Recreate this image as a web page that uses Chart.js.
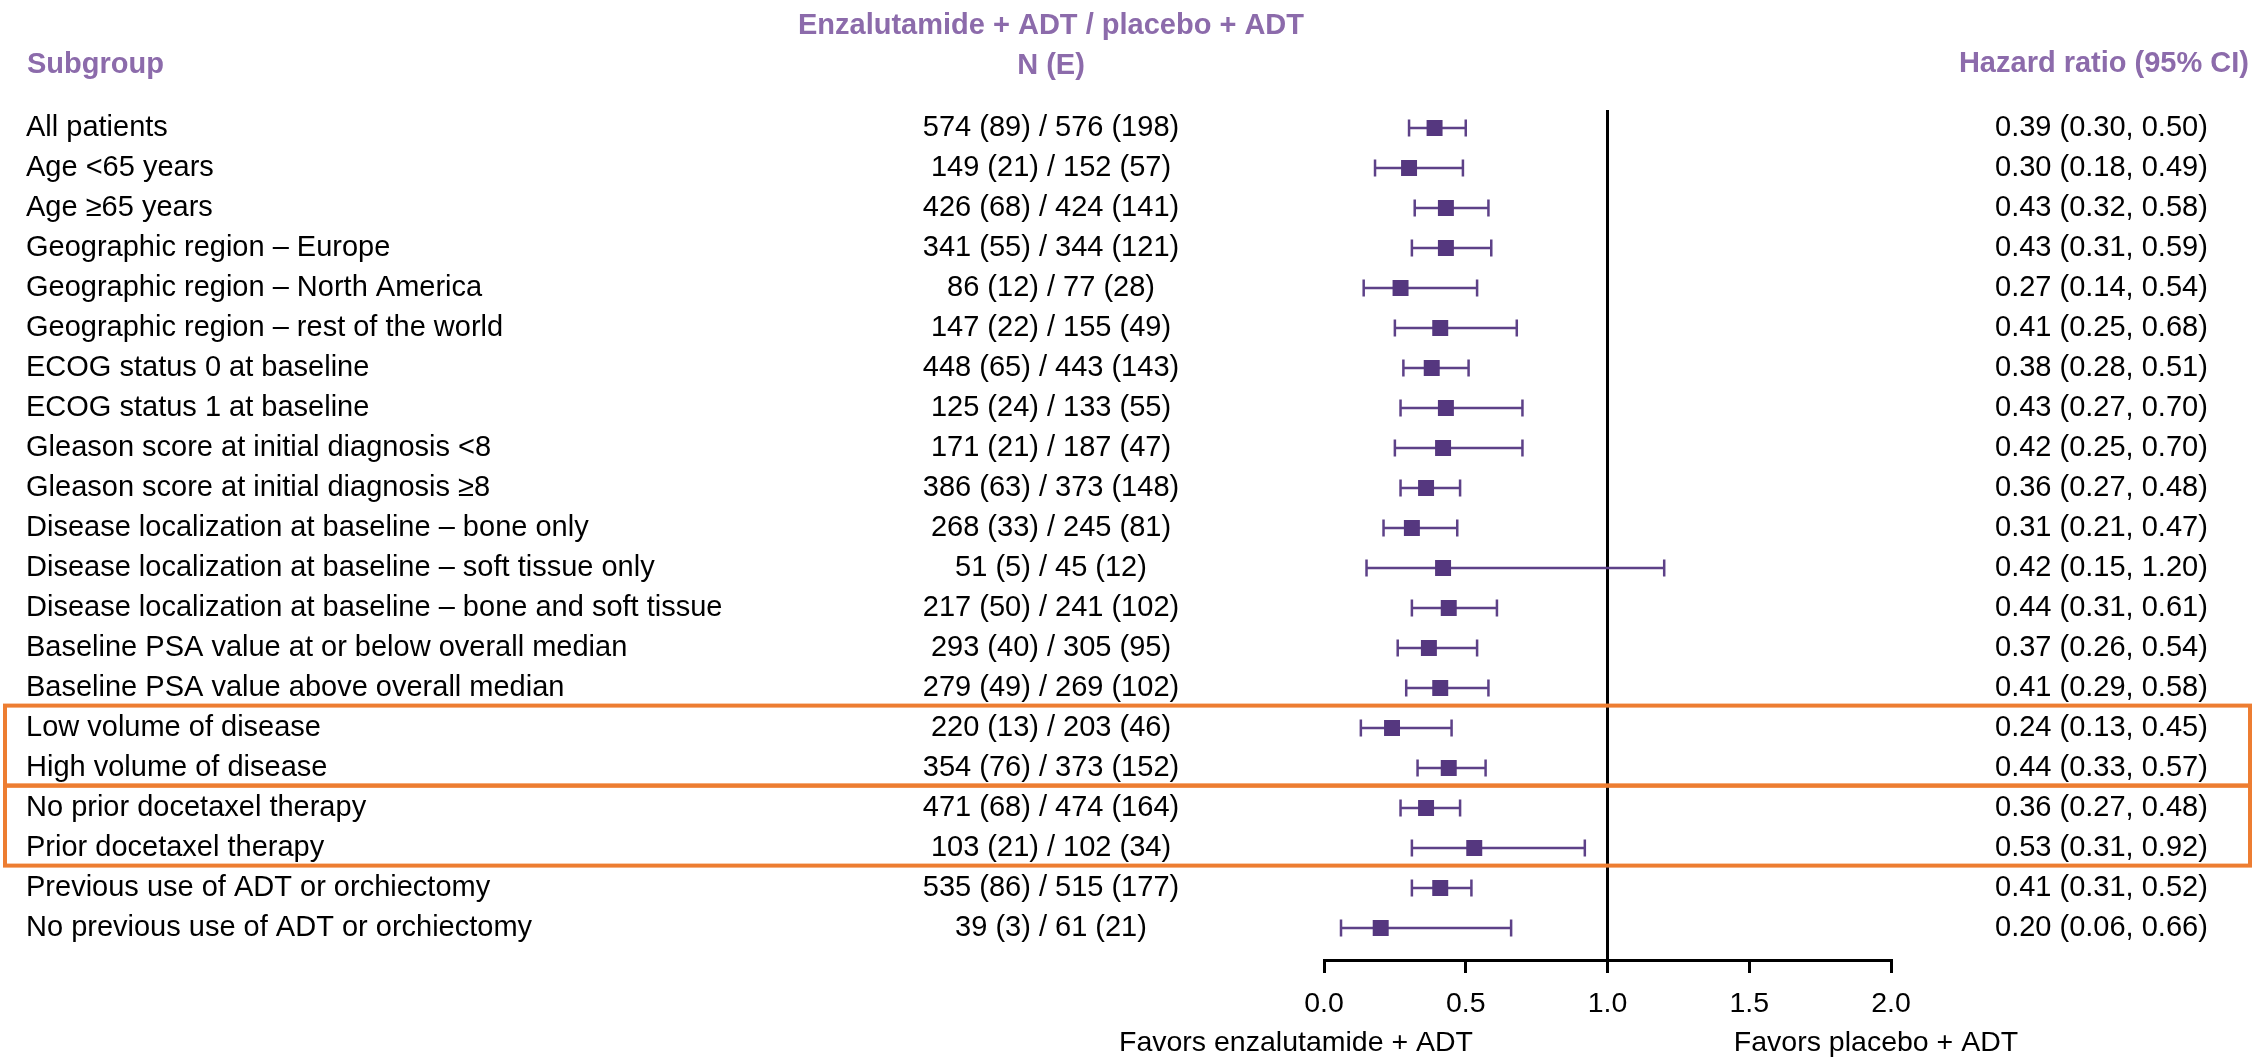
<!DOCTYPE html>
<html>
<head>
<meta charset="utf-8">
<script src="https://cdn.jsdelivr.net/npm/chart.js@4.4.1/dist/chart.umd.min.js"></script>
<style>
  html, body { margin: 0; padding: 0; background: #fff; }
  #wrap { width: 2254px; height: 1058px; }
</style>
</head>
<body>
<div id="wrap"><canvas id="forest" width="2254" height="1058"></canvas></div>
<script>
// rows, top to bottom
const subgroups = [
    "All patients",
    "Age <65 years",
    "Age \u226565 years",
    "Geographic region \u2013 Europe",
    "Geographic region \u2013 North America",
    "Geographic region \u2013 rest of the world",
    "ECOG status 0 at baseline",
    "ECOG status 1 at baseline",
    "Gleason score at initial diagnosis <8",
    "Gleason score at initial diagnosis \u22658",
    "Disease localization at baseline \u2013 bone only",
    "Disease localization at baseline \u2013 soft tissue only",
    "Disease localization at baseline \u2013 bone and soft tissue",
    "Baseline PSA value at or below overall median",
    "Baseline PSA value above overall median",
    "Low volume of disease",
    "High volume of disease",
    "No prior docetaxel therapy",
    "Prior docetaxel therapy",
    "Previous use of ADT or orchiectomy",
    "No previous use of ADT or orchiectomy"
];

const nEvents = [
    "574 (89) / 576 (198)",
    "149 (21) / 152 (57)",
    "426 (68) / 424 (141)",
    "341 (55) / 344 (121)",
    "86 (12) / 77 (28)",
    "147 (22) / 155 (49)",
    "448 (65) / 443 (143)",
    "125 (24) / 133 (55)",
    "171 (21) / 187 (47)",
    "386 (63) / 373 (148)",
    "268 (33) / 245 (81)",
    "51 (5) / 45 (12)",
    "217 (50) / 241 (102)",
    "293 (40) / 305 (95)",
    "279 (49) / 269 (102)",
    "220 (13) / 203 (46)",
    "354 (76) / 373 (152)",
    "471 (68) / 474 (164)",
    "103 (21) / 102 (34)",
    "535 (86) / 515 (177)",
    "39 (3) / 61 (21)"
];

const hr     = [0.39, 0.30, 0.43, 0.43, 0.27, 0.41, 0.38, 0.43, 0.42, 0.36, 0.31, 0.42, 0.44, 0.37, 0.41, 0.24, 0.44, 0.36, 0.53, 0.41, 0.20];
const ciLow  = [0.30, 0.18, 0.32, 0.31, 0.14, 0.25, 0.28, 0.27, 0.25, 0.27, 0.21, 0.15, 0.31, 0.26, 0.29, 0.13, 0.33, 0.27, 0.31, 0.31, 0.06];
const ciHigh = [0.50, 0.49, 0.58, 0.59, 0.54, 0.68, 0.51, 0.70, 0.70, 0.48, 0.47, 1.20, 0.61, 0.54, 0.58, 0.45, 0.57, 0.48, 0.92, 0.52, 0.66];

const xTicks = [0, 0.5, 1.0, 1.5, 2.0];

// highlighted groups: [first row, last row]
const boxes = [[15, 16], [17, 18]];

const PURPLE_HEAD = "#8c6bab";
const PURPLE_MARK = "#55377f";
const PURPLE_BAR = "#5d4188";
const ORANGE = "#ed7d31";
const FONT = "'Liberation Sans', Arial, Helvetica, sans-serif";

Chart.defaults.font.family = FONT;

const points = hr.map((v, i) => ({ x: v, y: i }));

// whiskers + reference line, under the squares
const whiskers = {
    id: "whiskers",
    beforeDatasetsDraw(chart) {
        const ctx = chart.ctx;
        const xs = chart.scales.x, ys = chart.scales.y;
        const area = chart.chartArea;
        ctx.save();
        // line of no effect
        var x1 = xs.getPixelForValue(1);
        ctx.strokeStyle = "#000";
        ctx.lineWidth = 3;
        ctx.beginPath();
        ctx.moveTo(x1, area.top);
        ctx.lineTo(x1, area.bottom);
        ctx.stroke();

        ctx.strokeStyle = PURPLE_BAR;
        ctx.lineWidth = 2.5;
        for (var i = 0; i < hr.length; i++) {
            var y = ys.getPixelForValue(i);
            var a = xs.getPixelForValue(ciLow[i]);
            var b = xs.getPixelForValue(ciHigh[i]);
            ctx.beginPath();
            ctx.moveTo(a, y);
            ctx.lineTo(b, y);
            ctx.moveTo(a, y - 8.5);
            ctx.lineTo(a, y + 8.5);
            ctx.moveTo(b, y - 8.5);
            ctx.lineTo(b, y + 8.5);
            ctx.stroke();
        }
        ctx.restore();
    }
};

// table columns, headers, boxes
const table = {
    id: "table",
    afterDraw(chart) {
        const ctx = chart.ctx;
        const ys = chart.scales.y;
        ctx.save();
        ctx.textBaseline = "middle";

        ctx.fillStyle = PURPLE_HEAD;
        ctx.font = "bold 29px " + FONT;
        ctx.textAlign = "left";
        ctx.fillText("Subgroup", 27, 65);
        ctx.textAlign = "center";
        ctx.fillText("Enzalutamide + ADT / placebo + ADT", 1051, 26);
        ctx.fillText("N (E)", 1051, 66);
        ctx.textAlign = "right";
        ctx.fillText("Hazard ratio (95% CI)", 2249, 64);

        ctx.fillStyle = "#000";
        ctx.font = "29px " + FONT;
        for (var i = 0; i < subgroups.length; i++) {
            var y = ys.getPixelForValue(i);
            ctx.textAlign = "left";
            ctx.fillText(subgroups[i], 26, y);
            ctx.textAlign = "center";
            ctx.fillText(nEvents[i], 1051, y);
            ctx.textAlign = "left";
            var txt = hr[i].toFixed(2) + " (" + ciLow[i].toFixed(2) + ", " + ciHigh[i].toFixed(2) + ")";
            ctx.fillText(txt, 1995, y);
        }

        ctx.font = "28.5px " + FONT;
        ctx.textAlign = "center";
        ctx.textBaseline = "alphabetic";
        ctx.fillText("Favors enzalutamide + ADT", 1296, 1051);
        ctx.fillText("Favors placebo + ADT", 1876, 1051);

        ctx.strokeStyle = ORANGE;
        ctx.lineWidth = 4;
        boxes.forEach(function (bx) {
            var top = ys.getPixelForValue(bx[0] - 0.56);
            var bottom = ys.getPixelForValue(bx[1] + 0.44);
            ctx.strokeRect(5, top, 2245, bottom - top);
        });
        ctx.restore();
    }
};

new Chart(document.getElementById("forest"), {
    type: "scatter",
    data: {
        datasets: [{
            label: "Hazard ratio",
            data: points,
            pointStyle: "rect",
            pointRadius: 11.3,
            pointHoverRadius: 11.3,
            backgroundColor: PURPLE_MARK,
            borderWidth: 0
        }]
    },
    options: {
        responsive: false,
        animation: false,
        devicePixelRatio: 1,
        layout: { padding: { left: 1324, right: 363, top: 110, bottom: 0 } },
        plugins: {
            legend: { display: false },
            tooltip: { enabled: false }
        },
        scales: {
            x: {
                type: "linear",
                min: 0,
                max: 2,
                position: "bottom",
                afterBuildTicks: function (scale) {
                    scale.ticks = xTicks.map(v => ({ value: v }));
                },
                afterFit: function (scale) {
                    scale.height = 98;
                },
                ticks: {
                    color: "#000",
                    font: { size: 28.5 },
                    padding: 14,
                    callback: v => Number(v).toFixed(1)
                },
                grid: {
                    drawOnChartArea: false,
                    drawTicks: true,
                    tickLength: 13,
                    color: "#000",
                    lineWidth: 3
                },
                border: { color: "#000", width: 3 }
            },
            y: {
                type: "linear",
                min: -0.45,
                max: 20.8,
                reverse: true,
                display: false
            }
        }
    },
    plugins: [whiskers, table]
});
</script>
</body>
</html>
